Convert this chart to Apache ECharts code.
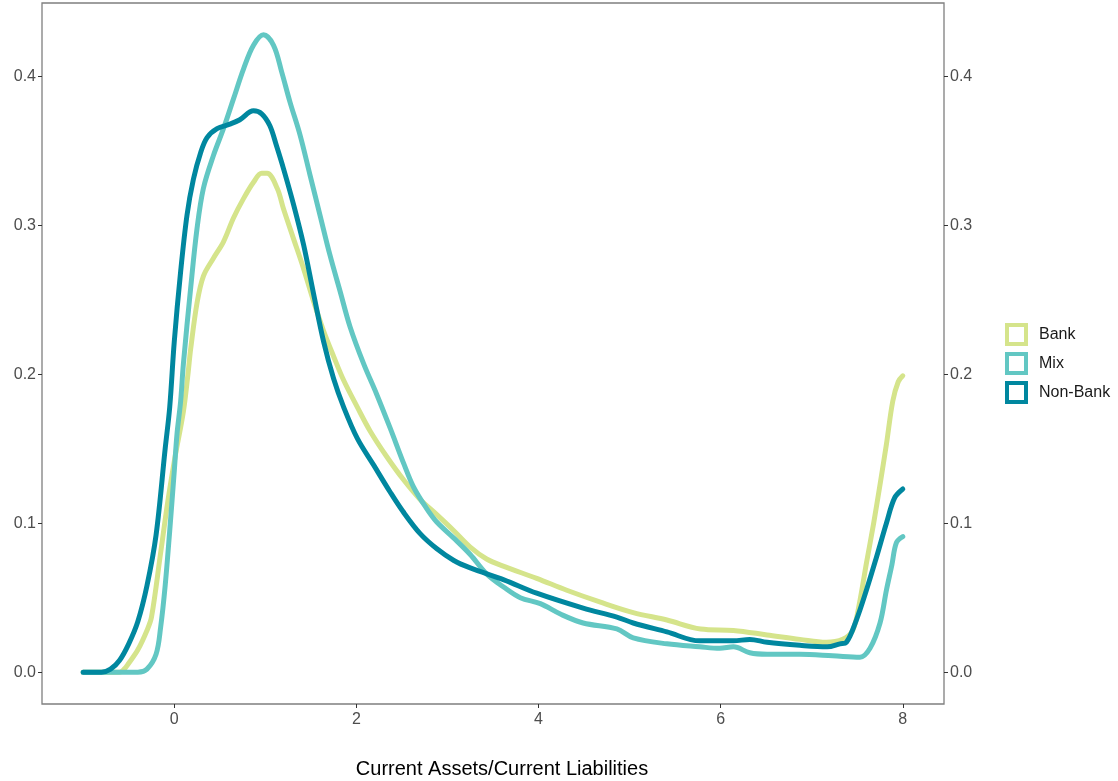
<!DOCTYPE html>
<html>
<head>
<meta charset="utf-8">
<script src="https://cdn.jsdelivr.net/npm/echarts@6/dist/echarts.min.js"></script>
<style>
  html, body { margin: 0; padding: 0; background: #fff; }
  #mainChart { width: 1118px; height: 781px; }
</style>
</head>
<body>
<div id="mainChart"></div>
<script>
// density curves
var bankX = [-1.00, -0.60, -0.55, -0.50, -0.40, -0.30, -0.25, -0.15, -0.07, 0.01, 0.10, 0.15, 0.18, 0.25, 0.32, 0.43, 0.54, 0.65, 0.76, 0.87, 0.96, 1.02, 1.13, 1.20, 1.31, 1.42, 1.53, 1.64, 1.75, 1.86, 2.01, 2.15, 2.33, 2.52, 2.70, 2.88, 3.07, 3.25, 3.43, 3.62, 3.98, 4.31, 4.68, 5.04, 5.41, 5.78, 6.14, 6.51, 6.87, 7.16, 7.34, 7.45, 7.52, 7.60, 7.68, 7.75, 7.82, 7.89, 7.95, 8.00];
var bankY = [0.000, 0.000, 0.002, 0.006, 0.015, 0.028, 0.037, 0.080, 0.115, 0.145, 0.175, 0.200, 0.217, 0.248, 0.266, 0.278, 0.289, 0.305, 0.318, 0.329, 0.335, 0.335, 0.325, 0.311, 0.291, 0.271, 0.249, 0.229, 0.212, 0.196, 0.178, 0.162, 0.145, 0.129, 0.116, 0.106, 0.095, 0.084, 0.076, 0.071, 0.063, 0.055, 0.047, 0.040, 0.035, 0.029, 0.028, 0.025, 0.022, 0.020, 0.022, 0.028, 0.045, 0.073, 0.100, 0.126, 0.153, 0.182, 0.195, 0.199];

var mixX = [-1.00, -0.40, -0.30, -0.20, -0.15, -0.10, -0.05, 0.00, 0.03, 0.07, 0.10, 0.18, 0.25, 0.32, 0.43, 0.54, 0.65, 0.76, 0.87, 0.98, 1.09, 1.18, 1.27, 1.38, 1.49, 1.60, 1.71, 1.82, 1.93, 2.08, 2.22, 2.37, 2.52, 2.63, 2.77, 2.88, 3.07, 3.25, 3.43, 3.62, 3.80, 4.02, 4.24, 4.49, 4.86, 5.04, 5.41, 5.77, 5.99, 6.14, 6.32, 6.51, 6.87, 7.23, 7.53, 7.64, 7.75, 7.82, 7.88, 7.93, 8.00];
var mixY = [0.000, 0.000, 0.002, 0.012, 0.030, 0.058, 0.095, 0.135, 0.160, 0.182, 0.207, 0.258, 0.298, 0.325, 0.347, 0.365, 0.385, 0.405, 0.421, 0.428, 0.421, 0.403, 0.383, 0.361, 0.334, 0.307, 0.280, 0.256, 0.232, 0.207, 0.187, 0.164, 0.140, 0.124, 0.110, 0.101, 0.090, 0.079, 0.066, 0.057, 0.050, 0.046, 0.039, 0.033, 0.029, 0.023, 0.019, 0.017, 0.016, 0.017, 0.013, 0.012, 0.012, 0.011, 0.010, 0.016, 0.033, 0.055, 0.072, 0.087, 0.091];

var nonBankX = [-1.00, -0.80, -0.70, -0.60, -0.50, -0.40, -0.30, -0.20, -0.10, -0.05, 0.00, 0.07, 0.14, 0.21, 0.29, 0.36, 0.47, 0.61, 0.72, 0.87, 0.96, 1.05, 1.12, 1.20, 1.31, 1.42, 1.53, 1.64, 1.75, 1.86, 2.01, 2.19, 2.37, 2.51, 2.70, 2.88, 3.07, 3.25, 3.62, 3.98, 4.49, 4.86, 5.04, 5.41, 5.77, 6.14, 6.32, 6.51, 6.87, 7.17, 7.31, 7.38, 7.49, 7.60, 7.71, 7.82, 7.91, 8.00];
var nonBankY = [0.000, 0.000, 0.002, 0.008, 0.019, 0.034, 0.058, 0.092, 0.150, 0.178, 0.222, 0.269, 0.307, 0.331, 0.349, 0.359, 0.365, 0.368, 0.371, 0.377, 0.375, 0.367, 0.354, 0.338, 0.314, 0.287, 0.254, 0.222, 0.197, 0.178, 0.157, 0.139, 0.121, 0.108, 0.093, 0.083, 0.075, 0.070, 0.062, 0.053, 0.043, 0.037, 0.033, 0.027, 0.021, 0.021, 0.022, 0.020, 0.018, 0.017, 0.019, 0.020, 0.035, 0.055, 0.077, 0.100, 0.117, 0.123];

var seriesNames = ['Bank', 'Mix', 'Non-Bank'];
var seriesColors = ['#d5e48b', '#62c7c3', '#00879f'];
var xTicks = [0, 2, 4, 6, 8];
var yTicks = [0, 0.1, 0.2, 0.3, 0.4];

function pairs(xs, ys) {
    return xs.map(function (x, i) { return [x, ys[i]]; });
}

var chartDom = document.getElementById('mainChart');
var myChart = echarts.init(chartDom);

var labelStyle = { color: '#4d4d4d', fontSize: 16, fontFamily: 'Liberation Sans' };

function yAxisOf(pos) {
    return {
        type: 'value',
        position: pos,
        min: -0.0214,
        max: 0.4494,
        splitLine: { show: false },
        axisLine: { show: false, onZero: false },
        axisTick: { show: true, length: 4, lineStyle: { color: '#333' }, customValues: yTicks },
        axisLabel: Object.assign({ margin: 6, customValues: yTicks, formatter: function (v) { return v.toFixed(1); } }, labelStyle)
    };
}

var allData = [pairs(bankX, bankY), pairs(mixX, mixY), pairs(nonBankX, nonBankY)];

var option = {
    backgroundColor: '#fff',
    animation: false,
    grid: {
        left: 42, right: 174, top: 3, bottom: 77,
        outerBoundsMode: 'none',
        show: true, borderColor: '#7f7f7f', borderWidth: 1.3, backgroundColor: '#fff'
    },
    legend: {
        orient: 'vertical',
        left: 1005, top: 323,
        padding: 0,
        itemGap: 6,
        itemWidth: 19, itemHeight: 19,
        icon: 'rect',
        textStyle: { color: '#1a1a1a', fontSize: 16, fontFamily: 'Liberation Sans', padding: [0, 0, 0, 8] },
        data: seriesNames.map(function (n, i) {
            return { name: n, itemStyle: { color: '#fff', borderColor: seriesColors[i], borderWidth: 4 } };
        })
    },
    xAxis: {
        type: 'value',
        min: -1.4525,
        max: 8.4525,
        name: 'Current Assets/Current Liabilities',
        nameLocation: 'middle',
        nameGap: 55,
        nameTextStyle: { color: '#000', fontSize: 20, fontFamily: 'Liberation Sans', verticalAlign: 'top', padding: [0, 0, 0, 18] },
        splitLine: { show: false },
        axisLine: { show: false, onZero: false },
        axisTick: { show: true, length: 4, lineStyle: { color: '#333' }, customValues: xTicks },
        axisLabel: Object.assign({ margin: 8, customValues: xTicks }, labelStyle)
    },
    yAxis: [yAxisOf('left'), yAxisOf('right')],
    series: seriesNames.map(function (n, i) {
        return {
            name: n,
            type: 'line',
            data: allData[i],
            showSymbol: false,
            smooth: 0.35,
            color: seriesColors[i],
            lineStyle: { width: 5, color: seriesColors[i], cap: 'round', join: 'round' },
            z: 2 + i
        };
    })
};

myChart.setOption(option);
</script>
</body>
</html>
